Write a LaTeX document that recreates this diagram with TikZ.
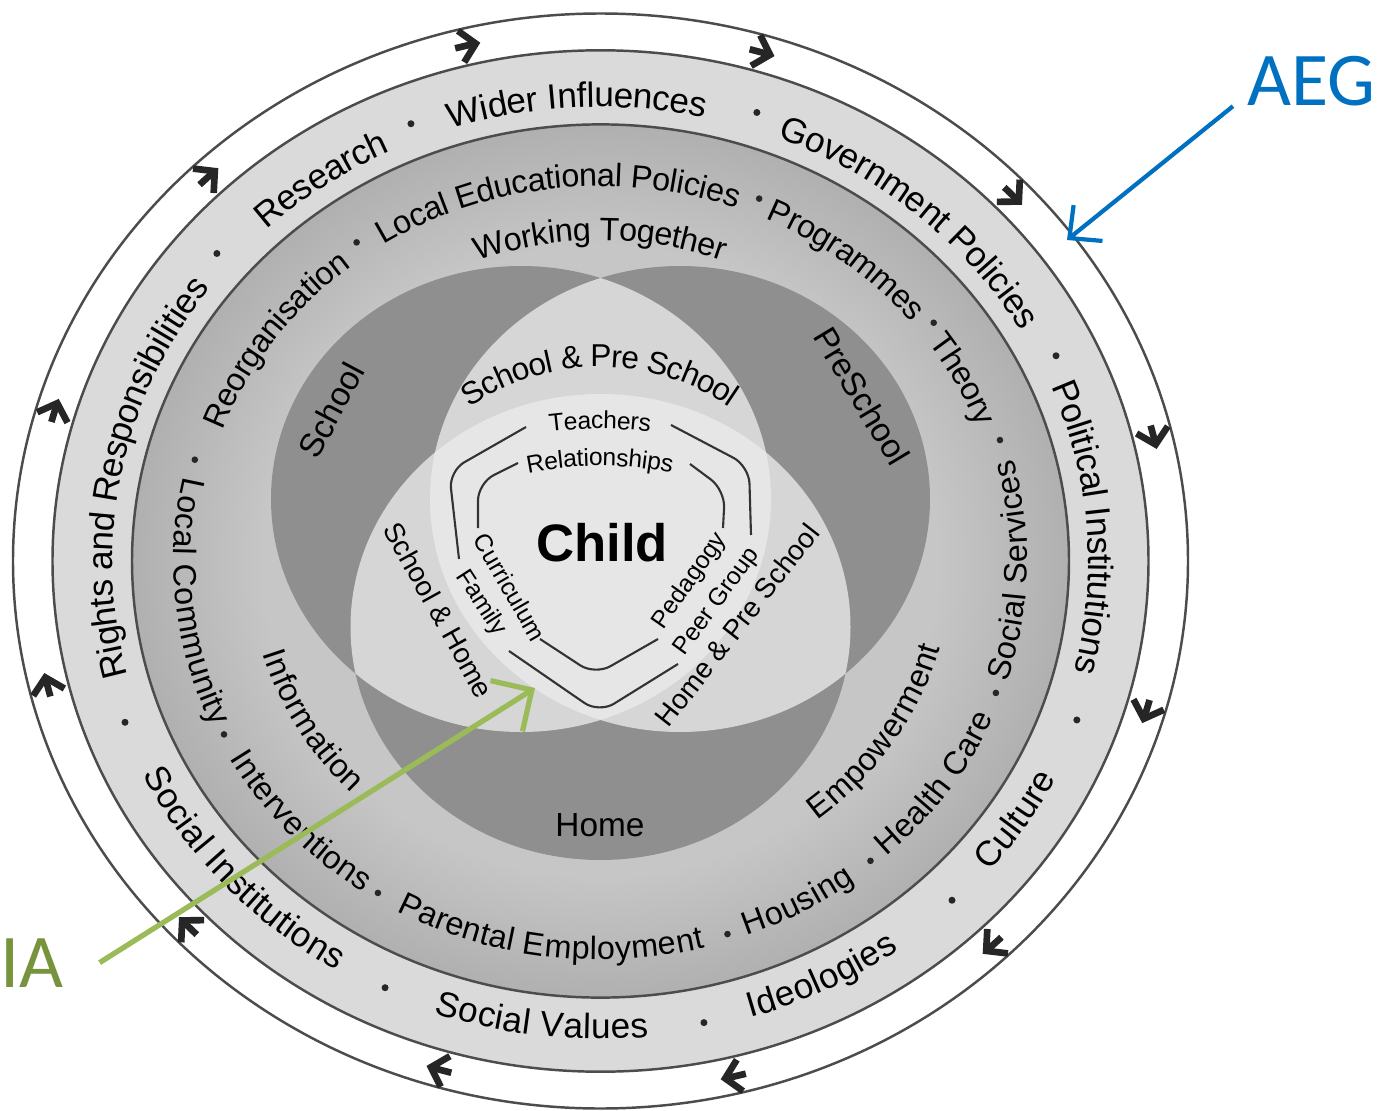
\documentclass[tikz,border=0pt]{standalone}
\usepackage{fontspec}
\setmainfont{Liberation Sans}
\newfontfamily\notefont{Carlito}
\usetikzlibrary{decorations.text,arrows.meta}

\definecolor{bandlight}{HTML}{DADADA}
\definecolor{midouter}{HTML}{B0B0B0}
\definecolor{midinner}{HTML}{C6C6C6}
\definecolor{venndark}{HTML}{8F8F8F}
\definecolor{vennpair}{HTML}{D6D6D6}
\definecolor{venncore}{HTML}{E6E6E6}
\definecolor{aegblue}{HTML}{0070C0}
\definecolor{iatext}{HTML}{77933C}
\definecolor{iagreen}{HTML}{9BBB59}

\pgfdeclareradialshading{bandshade}{\pgfpoint{0bp}{0bp}}{%
  color(0bp)=(midinner); color(18bp)=(midinner); color(25bp)=(midouter); color(50bp)=(midouter)}

\newcommand\outerfont{\fontsize{10}{12}\selectfont}
\newcommand\midfont{\fontsize{9.2}{11}\selectfont}
\newcommand\lensfont{\fontsize{9}{11}\selectfont}
\newcommand\corefont{\fontsize{7}{8}\selectfont}

% ring text centred at angle #1 on the ring of x radius #2
\newcommand\cwtext[3]{%
  \pgfmathsetmacro\bandry{0.932*#2}%
  \pgfmathsetmacro\bandsa{#1+40}\pgfmathsetmacro\bandea{#1-40}%
  \path[ringtext={#3}] (C) ++(\bandsa:#2 and \bandry)
    arc[start angle=\bandsa, end angle=\bandea, x radius=#2, y radius=\bandry];}
\newcommand\ccwtext[3]{%
  \pgfmathsetmacro\bandry{0.932*#2}%
  \pgfmathsetmacro\bandsa{#1-40}\pgfmathsetmacro\bandea{#1+40}%
  \path[ringtext={#3}] (C) ++(\bandsa:#2 and \bandry)
    arc[start angle=\bandsa, end angle=\bandea, x radius=#2, y radius=\bandry];}

\tikzset{
  ringline/.style={draw=black!70, line width=0.7pt},
  ringtext/.style={decorate, decoration={text along path, text align=center, raise=-3.4pt, text={#1}}},
  ringarrow/.style={>={Straight Barb[length=1.5mm,width=3.2mm]}, ->, line width=1.9pt, draw=black!85},
  ringdot/.style={fill=black!85},
  vennsize/.style={x radius=2.5, y radius=2.33},
  shieldline/.style={draw=black!80, line width=0.6pt, rounded corners=5pt},
  vennlbl/.style={font=\fontsize{9.5}{11}\selectfont, inner sep=0pt},
  pairlbl/.style={font=\fontsize{8}{10}\selectfont, inner sep=0pt},
  corelbl/.style={font=\corefont, inner sep=0pt},
  childlbl/.style={font=\fontsize{15}{18}\selectfont\bfseries, inner sep=0pt},
  notelbl/.style={font=\notefont\fontsize{21.6}{24}\selectfont, inner sep=0pt, anchor=base west},
  aegarrow/.style={>={Straight Barb[length=2.4mm,width=4.6mm]}, ->, line width=1.2pt, draw=aegblue},
  iaarrow/.style={>={Straight Barb[length=3mm,width=6mm]}, ->, line width=1.5pt, draw=iagreen}
}

\begin{document}
\begin{tikzpicture}
\path[use as bounding box, fill=white] (0,0) rectangle (13.79,11.10);
\coordinate (C) at (6.005,5.49);

% rings
\draw[ringline] (C) ellipse [x radius=5.875, y radius=5.475];
\filldraw[fill=bandlight, ringline] (C) ellipse [x radius=5.48, y radius=5.107];
\shade[shading=bandshade] (C) ellipse [x radius=4.685, y radius=4.366];
\draw[ringline] (C) ellipse [x radius=4.685, y radius=4.366];

% venn
\coordinate (S) at (5.21,6.11);
\coordinate (P) at (6.80,6.11);
\coordinate (H) at (6.005,4.83);
\fill[venndark] (S) ellipse [vennsize] (P) ellipse [vennsize] (H) ellipse [vennsize];
\begin{scope}
  \clip (S) ellipse [vennsize];
  \fill[vennpair] (P) ellipse [vennsize] (H) ellipse [vennsize];
\end{scope}
\begin{scope}
  \clip (P) ellipse [vennsize];
  \fill[vennpair] (H) ellipse [vennsize];
\end{scope}
\begin{scope}
  \clip (S) ellipse [vennsize];
  \clip (P) ellipse [vennsize];
  \fill[venncore] (H) ellipse [vennsize];
\end{scope}

% shields round the child
\draw[shieldline] (5.26,6.83) -- (4.49,6.39) -- (4.59,5.51);
\draw[shieldline] (6.71,6.85) -- (7.49,6.44) -- (7.51,5.75);
\draw[shieldline] (5.09,4.59) -- (5.99,3.97) -- (6.78,4.46);
\draw[shieldline] (5.18,6.47) -- (4.78,6.27) -- (4.78,5.82);
\draw[shieldline] (6.90,6.46) -- (7.25,6.20) -- (7.23,5.82);
\draw[shieldline] (5.40,4.71) -- (5.95,4.35) -- (6.58,4.71);

\node[childlbl] (child) at (6.02,5.67) {Child};
\path[ringtext={|\corefont|Teachers}, decoration={raise=-2.5pt}]
  (6.00,2.93) ++(110:3.97) arc[start angle=110, end angle=70, radius=3.97];
\path[ringtext={|\corefont|Relationships}, decoration={raise=-2.5pt}]
  (6.00,2.93) ++(110:3.60) arc[start angle=110, end angle=70, radius=3.60];
\node[corelbl, rotate=-60] (curriculum) at (5.10,5.23) {Curriculum};
\node[corelbl, rotate=-57] (family) at (4.81,5.07) {Family};
\node[corelbl, rotate=55] (pedagogy) at (6.90,5.29) {Pedagogy};
\node[corelbl, rotate=54] (peer) at (7.17,5.08) {Peer Group};

\node[vennlbl, rotate=62] (school) at (3.31,7.00) {School};
\node[vennlbl, rotate=-59] (preschool) at (8.62,7.14) {PreSchool};
\node[vennlbl] (home) at (6.00,2.85) {Home};
\node[pairlbl, rotate=-61] (schoolhome) at (4.39,5.00) {School \& Home};
\node[pairlbl, rotate=52] (homepre) at (7.37,4.85) {Home \& Pre School};
\path[ringtext={|\lensfont|School {\&} Pre School}]
  (6.00,5.15) ++(150:2.40) arc[start angle=150, end angle=30, radius=2.40];

% outer band
\cwtext{169}{5.0}{|\outerfont|Rights and Responsibilities}
\cwtext{125}{5.0}{|\outerfont|Research}
\cwtext{92.8}{5.0}{|\outerfont|Wider Influences}
\cwtext{49}{5.0}{|\outerfont|Government Policies}
\cwtext{4.2}{5.0}{|\outerfont|Political Institutions}
\ccwtext{222}{5.0}{|\outerfont|Social Institutions}
\ccwtext{263}{5.0}{|\outerfont|Social Values}
\ccwtext{297}{5.0}{|\outerfont|Ideologies}
\ccwtext{327}{5.0}{|\outerfont|Culture}
\foreach \a in {139.3,112,72,25.8,-19.7,200,244.8,281.8,314}
  \fill[ringdot] (C) ++(\a:5.06 and 4.716) circle[radius=0.035];

% middle band
\cwtext{144.5}{4.15}{|\midfont|Reorganisation}
\cwtext{96.5}{4.15}{|\midfont|Local Educational Policies}
\cwtext{52}{4.15}{|\midfont|Programmes}
\cwtext{27.6}{4.15}{|\midfont|Theory}
\ccwtext{186}{4.15}{|\midfont|Local Community}
\ccwtext{222.2}{4.15}{|\midfont|Interventions}
\ccwtext{262.6}{4.15}{|\midfont|Parental Employment}
\ccwtext{299}{4.15}{|\midfont|Housing}
\ccwtext{325.3}{4.15}{|\midfont|Health Care}
\ccwtext{358.6}{4.15}{|\midfont|Social Services}
\foreach \a in {165,125.5,67.8,37.5,18,206.3,238,287.6,310,340.3}
  \fill[ringdot] (C) ++(\a:4.2 and 3.914) circle[radius=0.033];

\cwtext{90}{3.57}{|\midfont|Working Together}
\ccwtext{210}{3.40}{|\midfont|Information}
\ccwtext{327}{3.40}{|\midfont|Empowerment}

% arrows round the outside
\foreach \a [evaluate=\a as \sa using \a+1.3, evaluate=\a as \ea using \a-1.3]
    in {13.5,43.5,...,343.5}
  \draw[ringarrow] (C) ++(\sa:5.69 and 5.303)
    arc[start angle=\sa, end angle=\ea, x radius=5.69, y radius=5.303];

% notes
\node[notelbl, text=aegblue] (aeg) at (12.47,10.05) {AEG};
\coordinate (aegtip) at (10.67,8.70);
\draw[aegarrow] ([xshift=-4pt]aeg.south west) -- (aegtip);

\node[notelbl, text=iatext] (ia) at (0.0,1.23) {IA};
\coordinate (iatip) at (5.35,4.22);
\draw[iaarrow] ([xshift=10pt]ia.east) -- (iatip);
\end{tikzpicture}
\end{document}
